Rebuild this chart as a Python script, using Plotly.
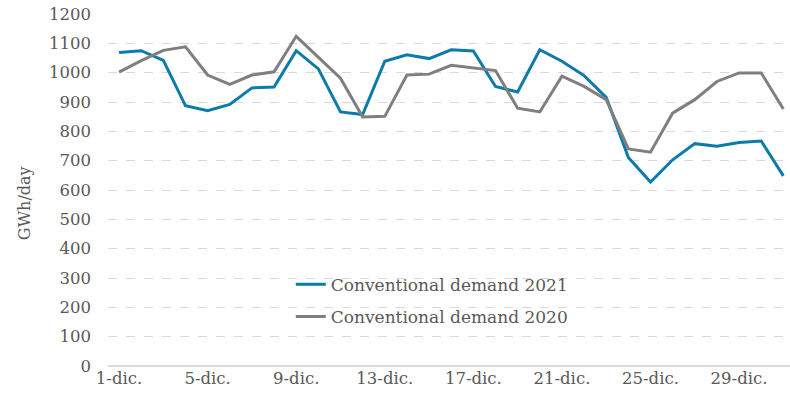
import plotly.graph_objects as go

days = list(range(1, 32))
demand_2021 = [1069, 1075, 1042, 887, 870, 892, 948, 951, 1075, 1013, 866, 857, 1039, 1061, 1048,
               1078, 1074, 953, 934, 1078, 1039, 990, 916, 711, 627, 703, 758, 749, 762, 767, 648]
demand_2020 = [1002, 1041, 1076, 1088, 992, 960, 992, 1003, 1124, 1053, 981, 849, 851, 992, 995,
               1025, 1016, 1007, 879, 866, 988, 953, 908, 740, 729, 862, 908, 970, 999, 999, 876]
tick_days = [1, 5, 9, 13, 17, 21, 25, 29]
tick_text = [f"{d}-dic." for d in tick_days]

FONT = "DejaVu Serif"
GREY_TXT = "#595959"

fig = go.Figure()
fig.add_trace(go.Scatter(x=days, y=demand_2021, mode="lines", name="Conventional demand 2021",
                         legendgroup="a", line=dict(color="#0a7bab", width=3)))
fig.add_trace(go.Scatter(x=days, y=demand_2020, mode="lines", name="Conventional demand 2020",
                         legendgroup="b", line=dict(color="#7f7f7f", width=3)))

fig.update_layout(
    width=790, height=400,
    margin=dict(l=108, r=0, t=14, b=34),
    plot_bgcolor="white", paper_bgcolor="white",
    font=dict(family=FONT, size=15, color=GREY_TXT),
    legend=dict(x=0.268, y=0.282, xanchor="left", yanchor="top",
                bgcolor="rgba(0,0,0,0)", font=dict(size=17, color=GREY_TXT),
                tracegroupgap=7, itemwidth=30),
    showlegend=True,
)
# y title as an annotation: it sits a little below the axis centre in the original
fig.add_annotation(text="GWh/day", xref="paper", yref="paper", x=-0.123, y=0.463,
                   xanchor="center", yanchor="middle", textangle=-90, showarrow=False,
                   font=dict(size=16, color=GREY_TXT))
fig.update_xaxes(range=[0.5, 31.3], tickvals=tick_days, ticktext=tick_text,
                 showgrid=False, showline=False, zeroline=False, automargin=False,
                 ticks="", tickfont=dict(size=16.5, color=GREY_TXT))
fig.update_yaxes(range=[0, 1200], dtick=100, showgrid=True, gridcolor="#d9d9d9",
                 griddash="dash", gridwidth=1, zeroline=True, zerolinecolor="#d9d9d9",
                 zerolinewidth=1.5, showline=False, ticks="", ticklabelstandoff=16,
                 automargin=False, tickfont=dict(size=16.5, color=GREY_TXT))

# drop the default 8px body margin so the figure sits at the window origin
fig.write_html("out.html", config={"displayModeBar": False},
               post_script="document.body.style.margin='0';")
